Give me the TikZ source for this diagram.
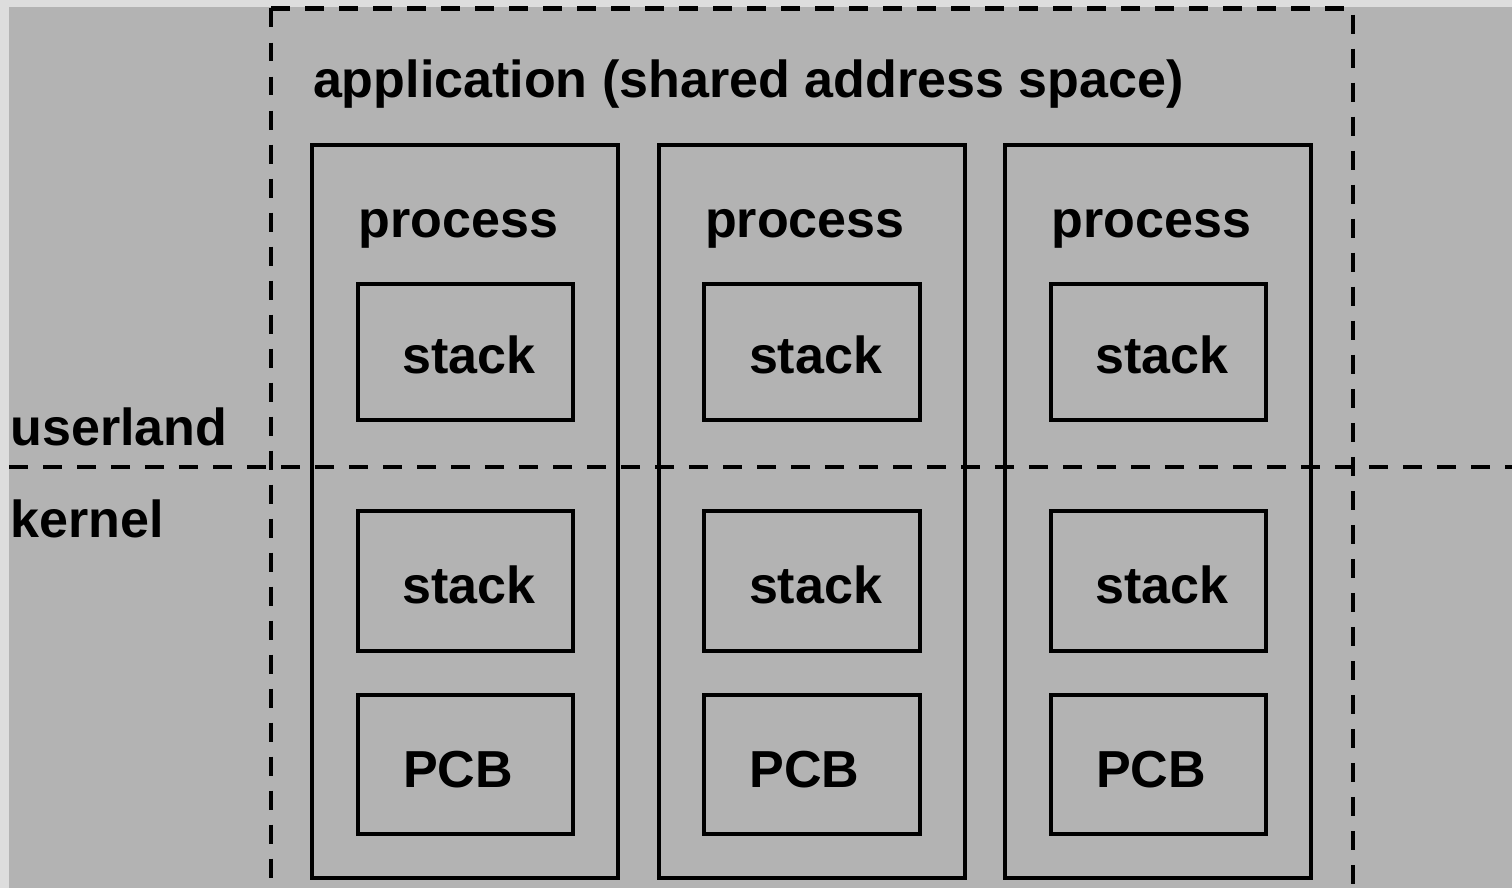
\documentclass[tikz,border=0pt]{standalone}
\usepackage{fontspec}
\setmainfont{Liberation Sans}
\usepackage{tikz}

\definecolor{panelgray}{HTML}{B3B3B3}
\definecolor{framegray}{HTML}{DDDDDD}

\begin{document}
\begin{tikzpicture}[x=0.01cm, y=-0.01cm, line width=1.14pt,
    layer/.style={dash pattern=on 5.4pt off 4.27pt},
    procbox/.style={draw, minimum width=3.055cm, minimum height=7.325cm, inner sep=0pt},
    membox/.style={draw, minimum width=2.15cm, inner sep=0pt},
    boxtext/.style={anchor=base west, inner sep=0pt,
      font=\fontsize{14.8pt}{17pt}\selectfont\bfseries}]

    \useasboundingbox (0,0) rectangle (1512,888);
    \fill[framegray] (0,0) rectangle (1512,888);
    \fill[panelgray] (9,7) rectangle (1512,888);
    \clip (0,0) rectangle (1512,888);

    % userland / kernel boundary
    \coordinate (divL) at (9,467);
    \coordinate (divR) at (1512,467);
    \draw[layer] (divL) -- (divR);

    % shared address space, runs off the bottom
    \coordinate (appTL) at (271,8.5);
    \coordinate (appTR) at (1353,8.5);
    \coordinate (appBL) at (271,900);
    \coordinate (appBR) at (1353,900);
    \draw[layer] (appTL) -- (appBL);
    \draw[layer] (appTL) -- (appTR) -- (appBR);

    \node[boxtext] (app) at (311,98) {application (shared address space)};
    \node[boxtext] (user) at (8.6,445) {userland};
    \node[boxtext] (kern) at (8.2,537) {kernel};

    % first process
    \node[procbox] (proc1) at (465.25,511.25) {};
    \node[membox, minimum height=1.36cm] (ustack1) at (465.5,352) {};
    \node[membox, minimum height=1.40cm] (kstack1) at (465.5,581) {};
    \node[membox, minimum height=1.39cm] (pcb1) at (465.5,764.5) {};
    \node[boxtext] (ptext1) at (356.5,237.7) {process};
    \node[boxtext] (utext1) at (400.5,373) {stack};
    \node[boxtext] (ktext1) at (400.5,603) {stack};
    \node[boxtext] (btext1) at (401,787) {PCB};

    % second process
    \node[procbox] (proc2) at (811.75,511.25) {};
    \node[membox, minimum height=1.36cm] (ustack2) at (812,352) {};
    \node[membox, minimum height=1.40cm] (kstack2) at (812,581) {};
    \node[membox, minimum height=1.39cm] (pcb2) at (812,764.5) {};
    \node[boxtext] (ptext2) at (703,237.7) {process};
    \node[boxtext] (utext2) at (747,373) {stack};
    \node[boxtext] (ktext2) at (747,603) {stack};
    \node[boxtext] (btext2) at (747.5,787) {PCB};

    % third process
    \node[procbox] (proc3) at (1158.25,511.25) {};
    \node[membox, minimum height=1.36cm] (ustack3) at (1158.5,352) {};
    \node[membox, minimum height=1.40cm] (kstack3) at (1158.5,581) {};
    \node[membox, minimum height=1.39cm] (pcb3) at (1158.5,764.5) {};
    \node[boxtext] (ptext3) at (1049.5,237.7) {process};
    \node[boxtext] (utext3) at (1093.5,373) {stack};
    \node[boxtext] (ktext3) at (1093.5,603) {stack};
    \node[boxtext] (btext3) at (1094,787) {PCB};

\end{tikzpicture}
\end{document}
